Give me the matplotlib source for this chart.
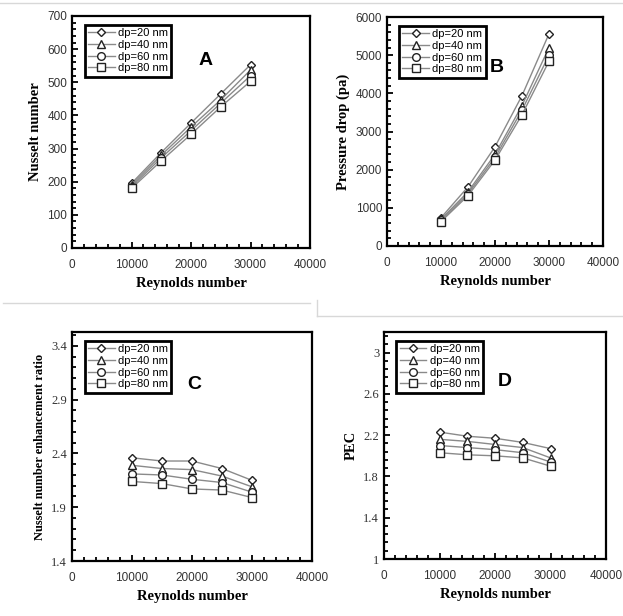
import matplotlib.pyplot as plt
from matplotlib.lines import Line2D
from matplotlib.ticker import MultipleLocator, FormatStrFormatter

reynolds = [10000, 15000, 20000, 25000, 30000]
labels = ['dp=20 nm', 'dp=40 nm', 'dp=60 nm', 'dp=80 nm']
markers = ['D', '^', 'o', 's']

nusselt = [
    [195, 288, 377, 465, 553],
    [190, 280, 365, 447, 537],
    [185, 272, 354, 437, 520],
    [180, 263, 343, 426, 503],
]
pressure = [
    [740, 1550, 2600, 3940, 5560],
    [700, 1420, 2400, 3680, 5200],
    [670, 1370, 2320, 3560, 5000],
    [640, 1320, 2250, 3440, 4840],
]
nu_ratio = [
    [2.36, 2.33, 2.33, 2.26, 2.15],
    [2.29, 2.26, 2.25, 2.19, 2.09],
    [2.21, 2.20, 2.16, 2.13, 2.04],
    [2.14, 2.12, 2.07, 2.06, 1.99],
]
pec = [
    [2.23, 2.19, 2.17, 2.13, 2.07],
    [2.16, 2.14, 2.11, 2.08, 1.98],
    [2.10, 2.08, 2.06, 2.03, 1.94],
    [2.03, 2.01, 2.00, 1.98, 1.90],
]

W, H = 623, 616
fig = plt.figure(figsize=(W / 100, H / 100), dpi=100)


def box(l, r, t, b):
    return [l / W, (H - b) / H, (r - l) / W, (b - t) / H]


def panel(rect, data, ylim, ymajor, ylabel, letter, letter_pos, ylab_size, tick_serif):
    ax = fig.add_axes(rect)
    for vals, m, lab in zip(data, markers, labels):
        ms = 4.5 if m == 'D' else 5.5
        ax.plot(reynolds, vals, color='#8a8a8a', lw=1.0, marker=m, ms=ms,
                mfc='white', mec='#222222', mew=1.0, label=lab)
    ax.set_xlim(0, 40000)
    ax.set_ylim(*ylim)
    ax.xaxis.set_major_locator(MultipleLocator(10000))
    ax.xaxis.set_minor_locator(MultipleLocator(2000))
    off = ylim[0] % ymajor
    ax.yaxis.set_major_locator(MultipleLocator(ymajor, offset=off))
    ax.yaxis.set_minor_locator(MultipleLocator(ymajor / 5, offset=off))
    ax.yaxis.set_major_formatter(FormatStrFormatter('%g'))
    ax.tick_params(which='both', direction='in', top=False, right=False, width=1.3)
    ax.tick_params(which='major', length=4)
    ax.tick_params(which='minor', length=3)
    ax.tick_params(axis='x', pad=8)
    for s in ax.spines.values():
        s.set_linewidth(1.6)
    yfam = 'Liberation Serif' if tick_serif else 'Liberation Sans'
    for t in ax.get_xticklabels():
        t.set_fontfamily('Liberation Sans')
        t.set_fontsize(8.5)
        t.set_color('#333333')
    for t in ax.get_yticklabels():
        t.set_fontfamily(yfam)
        t.set_fontsize(9 if tick_serif else 8.5)
        t.set_color('#333333')
    ax.set_xlabel('Reynolds number', fontfamily='Liberation Serif',
                  fontweight='bold', fontsize=10.5, labelpad=4)
    ax.set_ylabel(ylabel, fontfamily='Liberation Serif', fontweight='bold',
                  fontsize=ylab_size, labelpad=4)
    leg = ax.legend(loc='upper left', bbox_to_anchor=(0.03, 0.985), fancybox=False,
                    framealpha=1, edgecolor='black', borderpad=0.3,
                    handlelength=2.4, handletextpad=0.3, labelspacing=0.15,
                    prop={'family': 'Liberation Sans', 'size': 8})
    leg.get_frame().set_linewidth(2.0)
    ax.text(letter_pos[0], letter_pos[1], letter, transform=ax.transAxes,
            fontfamily='Liberation Sans', fontweight='bold', fontsize=14,
            ha='center', va='center')
    return ax


panel(box(72, 310, 16, 248), nusselt, (0, 700), 100, 'Nusselt number',
      'A', (0.56, 0.81), 10.5, False)
panel(box(387, 603, 17, 246), pressure, (0, 6000), 1000, 'Pressure drop (pa)',
      'B', (0.51, 0.78), 10.5, False)
panel(box(72, 312, 332, 561), nu_ratio, (1.4, 3.53), 0.5,
      'Nusselt number enhancement ratio', 'C', (0.51, 0.77), 9, True)
panel(box(384, 606, 332, 559), pec, (1.0, 3.2), 0.4, 'PEC',
      'D', (0.545, 0.78), 10.5, True)

# faint page borders from the source layout
grey = '#d8d8d8'
fig.add_artist(Line2D([0, 1], [1 - 3 / H, 1 - 3 / H], color=grey, lw=1))
fig.add_artist(Line2D([3 / W, 310 / W], [1 - 303 / H, 1 - 303 / H], color=grey, lw=1))
fig.add_artist(Line2D([317 / W, 1], [1 - 316 / H, 1 - 316 / H], color=grey, lw=1))
fig.add_artist(Line2D([317 / W, 317 / W], [1 - 300 / H, 1 - 316 / H], color=grey, lw=1))

fig.savefig('out.png', dpi=100)
